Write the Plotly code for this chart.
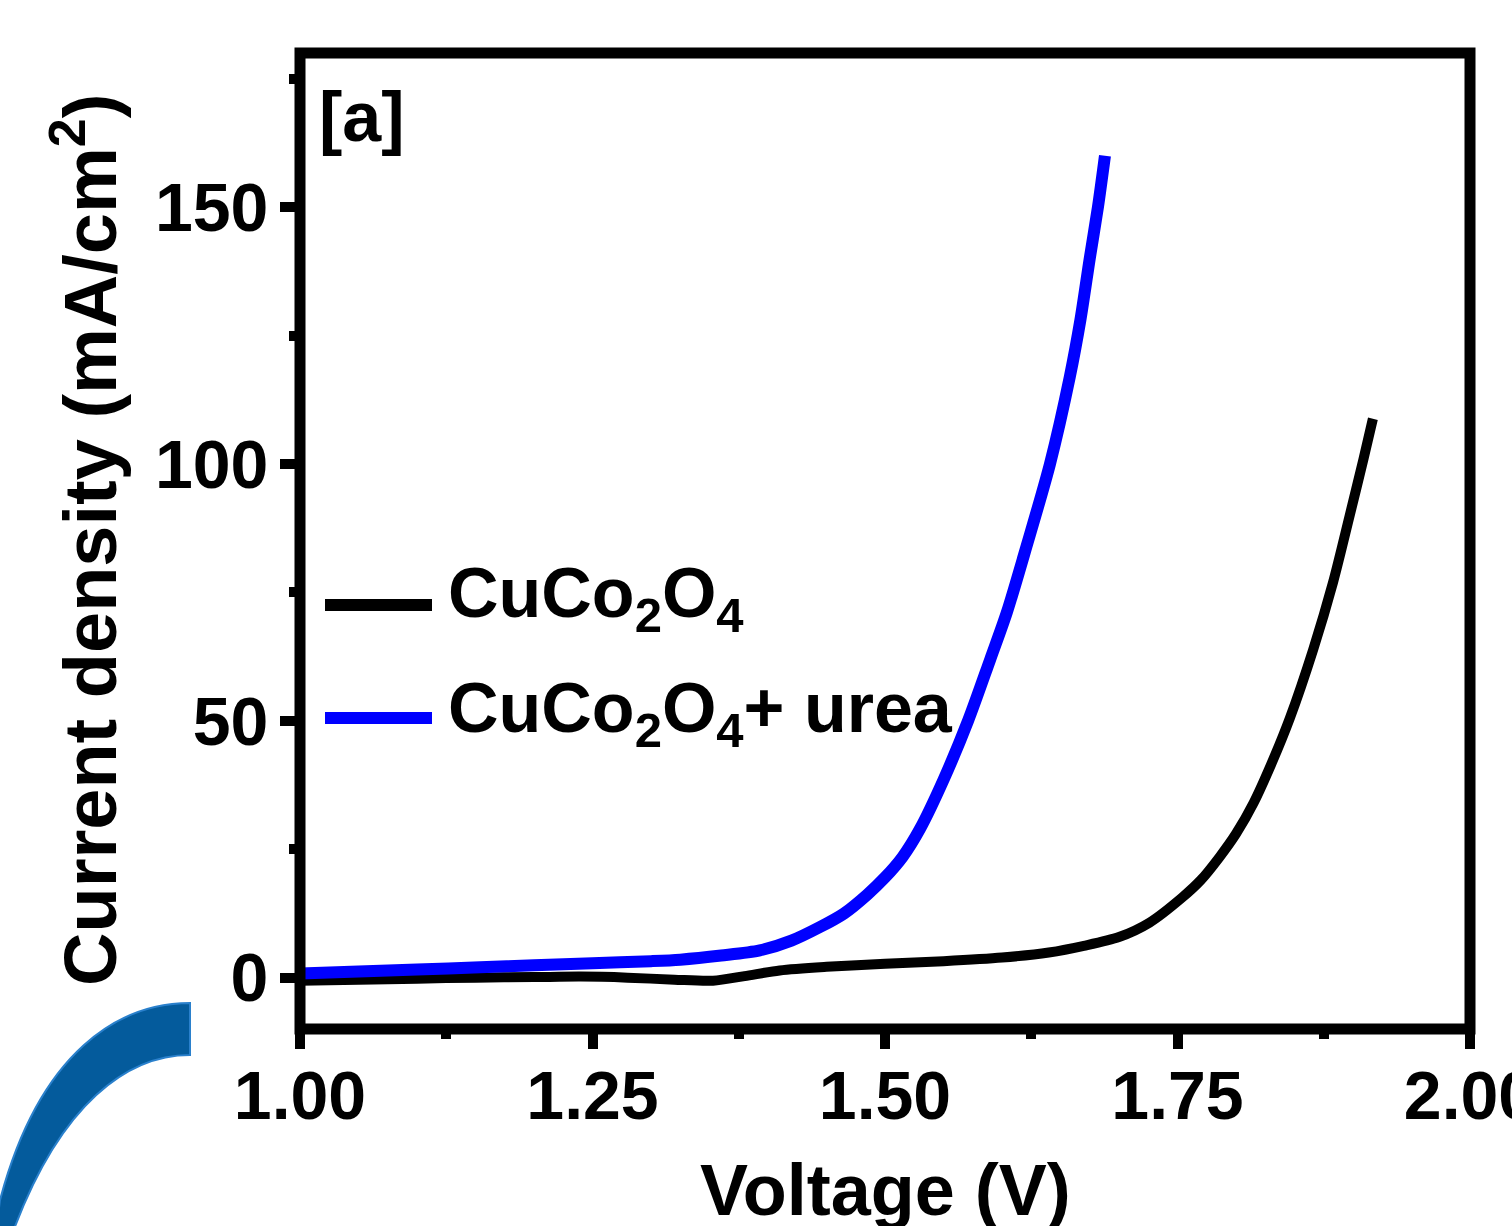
import plotly.graph_objects as go

# Linear sweep voltammetry curves (current density vs applied voltage)
v_cuco = [1.00, 1.05, 1.10, 1.15, 1.20, 1.24, 1.28, 1.32, 1.353, 1.38, 1.41, 1.45,
          1.50, 1.55, 1.60, 1.64, 1.67, 1.70, 1.726, 1.754, 1.77, 1.786, 1.80,
          1.815, 1.83, 1.846, 1.866, 1.883, 1.897, 1.909, 1.917]
j_cuco = [-0.6, -0.4, -0.2, 0.0, 0.1, 0.2, 0.0, -0.4, -0.6, 0.3, 1.4, 2.1,
          2.7, 3.2, 3.9, 4.9, 6.2, 7.9, 10.7, 15.6, 19.0, 23.5, 28.0,
          34.0, 41.5, 50.5, 63.9, 77.0, 89.8, 101.0, 108.8]

v_urea = [1.00, 1.05, 1.10, 1.154, 1.20, 1.25, 1.30, 1.325, 1.36, 1.393, 1.42,
          1.444, 1.465, 1.485, 1.50, 1.515, 1.53, 1.55, 1.571, 1.59, 1.604, 1.621,
          1.641, 1.658, 1.667, 1.675, 1.682, 1.688]
j_urea = [0.8, 1.2, 1.6, 2.0, 2.4, 2.8, 3.2, 3.5, 4.3, 5.3, 7.2,
          9.8, 12.5, 16.2, 19.5, 23.5, 29.0, 38.5, 50.0, 62.0, 71.0, 84.0,
          100.0, 117.0, 128.0, 140.0, 150.0, 160.0]

x_ticks = [1.00, 1.25, 1.50, 1.75, 2.00]
x_labels = ["1.00", "1.25", "1.50", "1.75", "2.00"]
y_ticks = [0, 50, 100, 150]
y_labels = ["0", "50", "100", "150"]

FONT = "Liberation Sans, Arial, sans-serif"
W, H = 1512, 1226
L, R, T, B = 300, 42, 53, 197


def px(x, y):
    """Convert figure pixel position to paper coordinates."""
    return (x - L) / (W - L - R), (H - B - y) / (H - T - B)


fig = go.Figure()
fig.add_trace(go.Scatter(x=v_cuco, y=j_cuco, mode="lines",
                         line=dict(color="black", width=10, shape="spline", smoothing=0.8),
                         showlegend=False))
fig.add_trace(go.Scatter(x=v_urea, y=j_urea, mode="lines",
                         line=dict(color="#0000ff", width=12, shape="spline", smoothing=0.8),
                         showlegend=False))

axis_common = dict(showline=False, showgrid=False, zeroline=False, ticks="outside", automargin=False,
                   tickwidth=10, tickcolor="black", ticklen=19, ticklabeloverflow="allow",
                   tickfont=dict(family=FONT, size=68, color="black", weight="bold"))

fig.update_xaxes(range=[1.0, 2.0], tickvals=x_ticks, ticktext=x_labels, ticklabelstandoff=-12,
                 minor=dict(ticks="outside", dtick=0.125, tick0=1.0, ticklen=9, tickwidth=10, tickcolor="black"),
                 **axis_common)
fig.update_yaxes(range=[-10, 180], tickvals=y_ticks, ticktext=y_labels, ticklabelstandoff=-2,
                 minor=dict(ticks="outside", dtick=25, tick0=0, ticklen=10, tickwidth=10, tickcolor="black"),
                 **axis_common)

shapes = []
# plot frame, centred on the plot-area edges
shapes.append(dict(type="rect", xref="paper", yref="paper", x0=0, x1=1, y0=0, y1=1,
                   line=dict(color="black", width=11), layer="above"))

# legend sample lines
for (y, col, w) in [(605, "black", 12), (718, "#0000ff", 12)]:
    x0, y0 = px(325, y)
    x1, _ = px(432, y)
    shapes.append(dict(type="line", xref="paper", yref="paper", x0=x0, x1=x1, y0=y0, y1=y0,
                       line=dict(color=col, width=w)))

# decorative arc in the lower-left corner
pts = [("M", [(190, 1003)]), ("C", [(120, 1003), (40, 1050), (0, 1200)]), ("L", [(-5, 1240)]),
       ("L", [(10, 1240)]), ("C", [(60, 1100), (130, 1055), (190, 1055)])]
path = ""
for cmd, plist in pts:
    path += cmd + " " + " ".join("%.5f,%.5f" % px(a, b) for a, b in plist) + " "
path += "Z"
shapes.append(dict(type="path", xref="paper", yref="paper", path=path, fillcolor="#045b9c",
                   line=dict(color="#2a80cc", width=2)))

annotations = []
lx, ly1 = px(446, 598)
_, ly2 = px(446, 713)
annotations.append(dict(text="CuCo<sub>2</sub>O<sub>4</sub>", x=lx, y=ly1, xref="paper", yref="paper",
                        xanchor="left", yanchor="middle", showarrow=False,
                        font=dict(family=FONT, size=70, color="black", weight="bold")))
annotations.append(dict(text="CuCo<sub>2</sub>O<sub>4</sub>+ urea", x=lx, y=ly2, xref="paper", yref="paper",
                        xanchor="left", yanchor="middle", showarrow=False,
                        font=dict(family=FONT, size=70, color="black", weight="bold")))
ax_, ay_ = px(317, 76)
annotations.append(dict(text="[a]", x=ax_, y=ay_, xref="paper", yref="paper", xanchor="left", yanchor="top",
                        showarrow=False, font=dict(family=FONT, size=70, color="black", weight="bold")))
tx, ty = px(85, 540)
annotations.append(dict(text="Current density (mA/cm<sup>2</sup>)", x=tx, y=ty, xref="paper", yref="paper",
                        xanchor="center", yanchor="middle", textangle=-90, showarrow=False,
                        font=dict(family=FONT, size=74, color="black", weight="bold")))
vx, vy = px(885, 1190)
annotations.append(dict(text="Voltage (V)", x=vx, y=vy, xref="paper", yref="paper",
                        xanchor="center", yanchor="middle", showarrow=False,
                        font=dict(family=FONT, size=72, color="black", weight="bold")))

fig.update_layout(width=W, height=H, margin=dict(l=L, r=R, t=T, b=B, autoexpand=False),
                  paper_bgcolor="white", plot_bgcolor="white", shapes=shapes, annotations=annotations)

fig.write_html("out.html")
